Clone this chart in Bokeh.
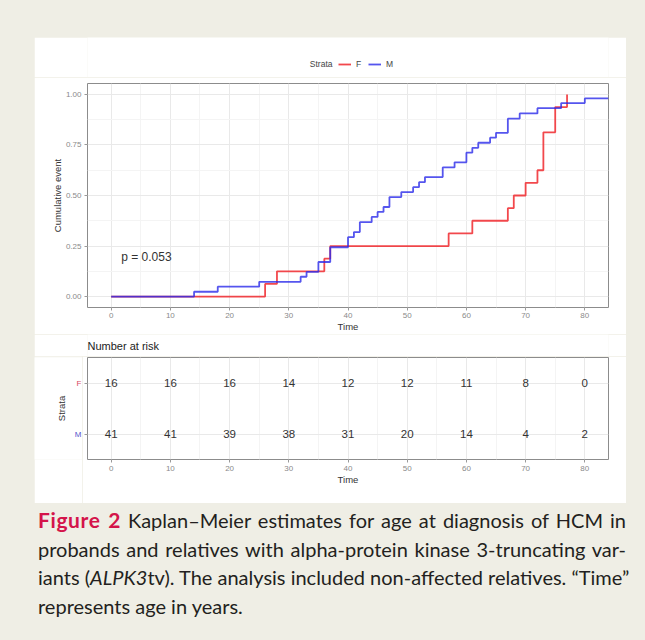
import math
from bokeh.plotting import figure
from bokeh.models import (Range1d, FixedTicker, PrintfTickFormatter, Label,
                          Legend, LegendItem, Div, ColumnDataSource)
from bokeh.layouts import column, row
from bokeh.embed import file_html
from bokeh.resources import INLINE
from bokeh.core.properties import value

# ---------------- data ----------------
time_F = [0, 26, 28, 36, 37, 57, 61, 67, 68, 70, 72, 73, 75, 77]
cum_F = [0, 0.0625, 0.125, 0.1875, 0.25, 0.3125, 0.375, 0.4375, 0.5,
         0.5625, 0.625, 0.8125, 0.9375, 1.0]

time_M = [0, 14, 18, 25, 32, 33, 35, 37, 40, 41, 42, 44, 45, 46, 47, 49, 51,
          52, 53, 56, 58, 60, 61, 62, 64, 65, 67, 69, 72, 76, 80, 84]
cum_M = [0, 0.024, 0.049, 0.073, 0.098, 0.122, 0.171, 0.244, 0.294, 0.319,
         0.368, 0.394, 0.419, 0.443, 0.492, 0.517, 0.541, 0.566, 0.591, 0.639,
         0.664, 0.712, 0.736, 0.761, 0.786, 0.810, 0.880, 0.906, 0.932, 0.957,
         0.980, 0.980]

risk_times = [0, 10, 20, 30, 40, 50, 60, 70, 80]
risk_F = [16, 16, 16, 14, 12, 12, 11, 8, 0]
risk_M = [41, 41, 39, 38, 31, 20, 14, 4, 2]
strata = ["M", "F"]          # bottom to top in the risk table
x_ticks = [0, 10, 20, 30, 40, 50, 60, 70, 80]
x_minor = [5, 15, 25, 35, 45, 55, 65, 75]
y_ticks = [0, 0.25, 0.5, 0.75, 1.0]
y_minor = [0.125, 0.375, 0.625, 0.875]
p_text = "p = 0.053"

RED = "#f0282d"
BLUE = "#2b2bea"
FONT = "Liberation Sans"
TICK_COL = "#8a8a8a"
GRID = "#e9e9e9"
GRID_MINOR = "#f4f4f4"
BEIGE = "#efeee5"


def style_axes(p):
    for ax in (p.xaxis[0], p.yaxis[0]):
        ax.axis_line_color = None
        ax.major_tick_line_color = "#9a9a9a"
        ax.major_tick_out = 3
        ax.major_tick_in = 0
        ax.minor_tick_line_color = None
        ax.major_label_text_font = FONT
        ax.major_label_text_font_size = "8px"
        ax.major_label_text_color = TICK_COL
        ax.axis_label_text_font = FONT
        ax.axis_label_text_font_size = "9.5px"
        ax.axis_label_text_font_style = "normal"
        ax.axis_label_text_color = "#333333"
    p.outline_line_color = "#8c8c8c"
    p.outline_line_width = 1
    p.xgrid.grid_line_color = GRID
    p.ygrid.grid_line_color = GRID
    p.xgrid.minor_grid_line_color = GRID_MINOR
    p.ygrid.minor_grid_line_color = GRID_MINOR


def strip(width, height, xr):
    fig = figure(width=width, height=height, output_backend="svg",
                 toolbar_location=None, x_range=Range1d(0, xr),
                 y_range=Range1d(0, height), x_axis_type=None,
                 y_axis_type=None, min_border=0, background_fill_color="white",
                 border_fill_color="white", outline_line_color=None)
    fig.xgrid.visible = False
    fig.ygrid.visible = False
    return fig


# ---------------- legend header (frame aligned with the plot frame) -------
header = strip(592, 40, 521)
header.add_layout(Label(x=245, y=14, text="Strata", text_font=FONT,
                        text_font_size="8.5px", text_color="#444444",
                        text_align="right", text_baseline="middle"))
off = [-100]  # legend swatch renderers, kept outside the visible range
h_F = header.line(x=off, y=off, line_color=RED, line_width=1.8, line_alpha=0.85)
h_M = header.line(x=off, y=off, line_color=BLUE, line_width=1.8, line_alpha=0.8)
legend = Legend(items=[LegendItem(label="F", renderers=[h_F]),
                       LegendItem(label="M", renderers=[h_M])],
                orientation="horizontal", location=(251, 8),
                glyph_width=13, glyph_height=10, label_height=10,
                label_width=6, label_standoff=5, spacing=6, padding=0,
                margin=0, border_line_color=None, background_fill_alpha=0,
                label_text_font=FONT, label_text_font_size="8.5px",
                label_text_color="#444444")
header.add_layout(legend, "center")

# ---------------- KM plot ----------------
km = figure(width=592, height=257, output_backend="svg", toolbar_location=None,
            x_range=Range1d(-4, 84), y_range=Range1d(-0.054, 1.054),
            min_border_left=53, min_border_right=18, min_border_top=6,
            min_border_bottom=27, background_fill_color="white",
            border_fill_color="white")
km.xaxis.ticker = FixedTicker(ticks=x_ticks, minor_ticks=x_minor)
km.yaxis.ticker = FixedTicker(ticks=y_ticks, minor_ticks=y_minor)
km.yaxis.formatter = PrintfTickFormatter(format="%.2f")
km.xaxis.axis_label = "Time"
km.yaxis.axis_label = "Cumulative event"
style_axes(km)
km.xaxis.major_label_standoff = 1
km.yaxis.major_label_standoff = 2
km.xaxis.axis_label_standoff = 0
km.yaxis.axis_label_standoff = 0

km.step(time_F, cum_F, mode="after", line_color=RED, line_width=1.8,
        line_alpha=0.85)
km.step(time_M, cum_M, mode="after", line_color=BLUE, line_width=1.8,
        line_alpha=0.8)

km.add_layout(Label(x=1.7, y=0.195, text=p_text, text_font=FONT,
                    text_font_size="12px", text_color="#333333",
                    text_baseline="middle", text_align="left"))

# ---------------- "Number at risk" title strip ----------------
title_strip = strip(592, 22, 521)
title_strip.add_layout(Label(x=0, y=11, text="Number at risk", text_font=FONT,
                             text_font_size="11px", text_color="#222222",
                             text_align="left", text_baseline="middle"))

# ---------------- risk table ----------------
shared_y = Range1d(0, 2)
risk = figure(width=544, height=147, output_backend="svg", toolbar_location=None,
              x_range=Range1d(-4, 84), y_range=shared_y,
              min_border_left=5, min_border_right=18, min_border_top=1,
              min_border_bottom=44, background_fill_color="white",
              border_fill_color="white")
risk.xaxis.ticker = FixedTicker(ticks=x_ticks, minor_ticks=x_minor)
row_pos = [i + 0.5 for i in range(len(strata))]
risk.yaxis.ticker = FixedTicker(ticks=row_pos)
risk.yaxis.major_label_overrides = {rp: "" for rp in row_pos}
risk.xaxis.axis_label = "Time"
style_axes(risk)
risk.yaxis.major_label_standoff = 0
risk.ygrid.minor_grid_line_color = None
risk.xaxis.major_label_standoff = 2
risk.xaxis.axis_label_standoff = 0

yF = row_pos[strata.index("F")]
yM = row_pos[strata.index("M")]
src = ColumnDataSource(dict(
    x=risk_times + risk_times,
    y=[yF] * len(risk_F) + [yM] * len(risk_M),
    t=[str(v) for v in risk_F] + [str(v) for v in risk_M]))
risk.text(x="x", y="y", text="t", source=src, text_font=value(FONT),
          text_font_size="11.5px", text_color="#333333", text_align="center",
          text_baseline="middle")

# left strip holding the coloured strata labels and the "Strata" title
side = figure(width=48, height=147, output_backend="svg", toolbar_location=None,
              x_range=Range1d(0, 48), y_range=shared_y,
              x_axis_type=None, y_axis_type=None,
              min_border_left=0, min_border_right=0, min_border_top=1,
              min_border_bottom=44, background_fill_color="white",
              border_fill_color="white", outline_line_color=None)
side.xgrid.visible = False
side.ygrid.visible = False
side.text(x=[47, 47], y=[yF, yM], text=["F", "M"],
          text_color=["#d8485e", "#5555cc"], text_font=value(FONT),
          text_font_size="8px", text_align="right", text_baseline="middle")
side.text(x=[27], y=[1.0], text=["Strata"], angle=math.pi / 2,
          text_font=value(FONT), text_font_size="9.5px", text_color="#333333",
          text_align="center", text_baseline="middle")

# ---------------- caption ----------------
line_style = ("text-align:justify;text-align-last:justify;white-space:nowrap;"
              "width:588px;")
caption_html = (
    '<div style="font-family:Lato;font-size:20px;line-height:28.5px;'
    'color:#231f20;width:588px;">'
    f'<div style="{line_style}"><span style="color:#d4144a;font-weight:bold;'
    'font-size:21px;letter-spacing:0.6px;">'
    'Figure 2</span> Kaplan–Meier estimates for age at diagnosis of HCM in</div>'
    f'<div style="{line_style}">probands and relatives with alpha-protein '
    'kinase 3-truncating var-</div>'
    f'<div style="{line_style}">iants (<i>ALPK3</i>tv). The analysis included '
    'non-affected relatives. “Time”</div>'
    '<div style="text-align:left;">represents age in years.</div>'
    '</div>')
caption = Div(text=caption_html, width=588, height=134, margin=(3, 0, 0, 38))

card = column(header, km, title_strip, row(side, risk, spacing=0),
              margin=(37, 0, 0, 34), spacing=0)
page = column(card, caption, width=645, height=640, spacing=0,
              styles={"background-color": BEIGE})

open("out.html", "w").write(file_html(page, INLINE))
